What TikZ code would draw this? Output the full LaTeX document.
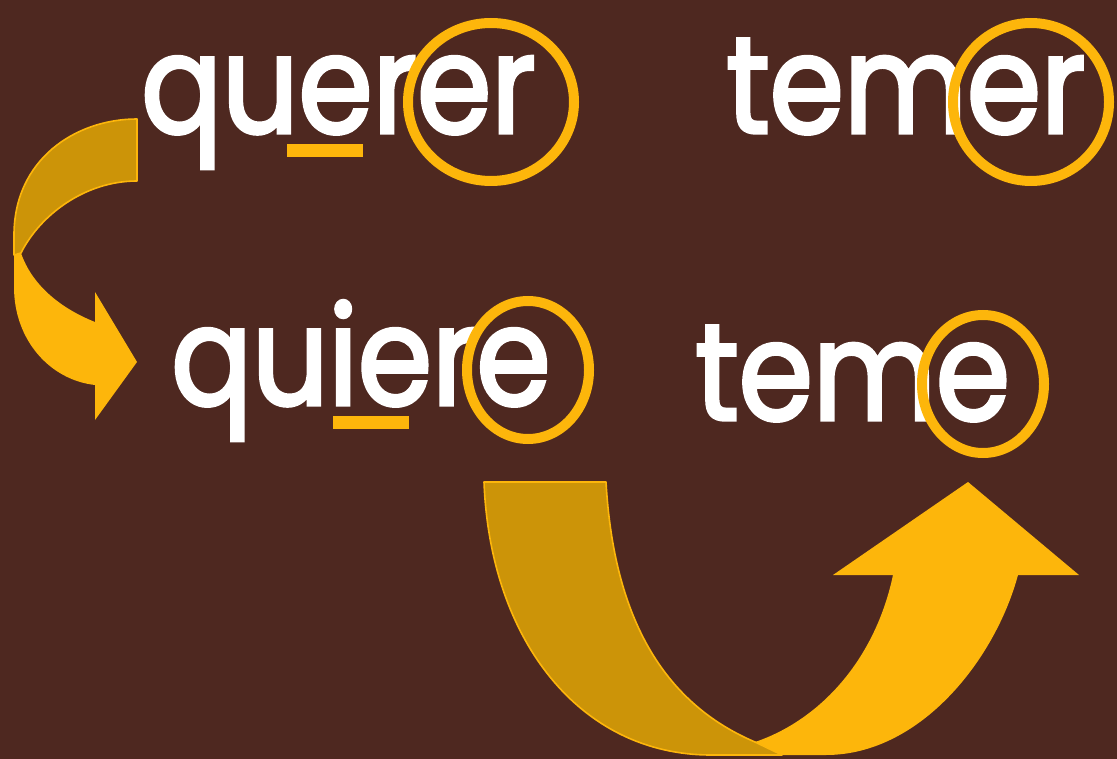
\documentclass[tikz,border=0pt]{standalone}
\usepackage{fontspec}
\setmainfont{Poppins}
\newfontfamily\letrapalabra{Poppins}[FakeBold=2.5, FakeStretch=0.87]
\usepackage{tikz}
\definecolor{fondo}{RGB}{78,40,32}
\definecolor{naranja}{RGB}{253,182,11}
\definecolor{ocre}{RGB}{204,148,8}

\begin{document}
\begin{tikzpicture}[
    x=0.75pt, y=-0.75pt,
    % Estilo para las palabras (texto blanco grande)
    Palabra/.style={
        text=white,
        font=\letrapalabra\fontsize{103}{103}\selectfont,
        inner sep=0pt,
        anchor=base west
    },
    % Estilo para los anillos naranjas (terminaciones)
    Anillo/.style={draw=naranja, line width=7.5pt},
    % Estilo para la raya bajo la vocal
    Raya/.style={fill=naranja},
    % Cara trasera de la cinta (ocre con borde)
    CintaAtras/.style={fill=ocre, draw=naranja, line width=1.2pt, line join=round},
    % Cara delantera de la cinta
    CintaFrente/.style={fill=naranja}
]

    % --- 1. FONDO ---
    \fill[fondo] (0,0) rectangle (1117,759);
    \useasboundingbox (0,0) rectangle (1117,759);

    % --- 2. LAS PALABRAS ---
    \node[Palabra] (querer) at (141,133) {querer};
    \node[Palabra] (temer)  at (726,133) {temer};
    \node[Palabra] (quiere) at (171,405) {quiere};
    \node[Palabra] (teme)   at (695,420) {teme};

    % Rayas bajo la vocal del radical
    \fill[Raya] (287,144) rectangle (363,157);
    \fill[Raya] (333,416) rectangle (409,429);

    % Anillos alrededor de la terminacion
    \draw[Anillo] (491,102) ellipse (83 and 79);
    \draw[Anillo] (1031,102) ellipse (78 and 79);
    \draw[Anillo] (528,370) ellipse (61 and 69);
    \draw[Anillo] (983,384) ellipse (61 and 69);

    % --- 3. FLECHA IZQUIERDA (querer -> quiere) ---
    \coordinate (ColaA) at (137,119);
    \coordinate (ColaB) at (137,181);
    \coordinate (PuntaIzq) at (137,362);

    \fill[CintaFrente] (14,253) -- (14,287) .. controls (14,340) and (50,380) .. (95,385)
        -- (95,420) -- (PuntaIzq) -- (95,292) -- (95,322)
        .. controls (60,308) and (32,285) .. (21,253) -- cycle;
    \filldraw[CintaAtras] (ColaA) -- (ColaB)
        .. controls (85,181) and (40,215) .. (21,253) -- (14,255) -- (14,235)
        .. controls (14,160) and (75,119) .. (ColaA) -- cycle;

    % --- 4. FLECHA DERECHA (quiere -> teme) ---
    \coordinate (ColaC) at (484,482);
    \coordinate (ColaD) at (606,482);
    \coordinate (PuntaDer) at (968,482);

    \fill[CintaFrente] (711,755) -- (826,755) .. controls (920,755) and (995,660) .. (1018,575)
        -- (1079,575) -- (PuntaDer) -- (833,575) -- (893,575)
        .. controls (875,660) and (820,720) .. (755,742) -- cycle;
    \filldraw[CintaAtras] (ColaC) -- (ColaD)
        .. controls (615,640) and (680,710) .. (755,742) -- (782,755) -- (711,755)
        .. controls (580,755) and (490,640) .. (ColaC) -- cycle;

\end{tikzpicture}
\end{document}
